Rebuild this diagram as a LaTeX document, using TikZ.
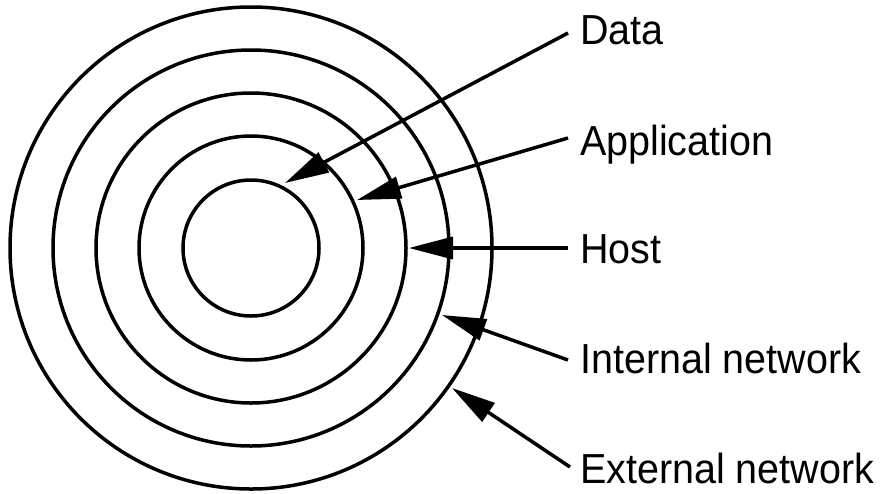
\documentclass[tikz,border=0pt]{standalone}
\usepackage{fontspec}
\setmainfont{Liberation Sans}[FakeStretch=0.94]
\usetikzlibrary{arrows.meta}
\begin{document}
\begin{tikzpicture}[x=1pt,y=-1pt,
  ring/.style={line width=3.5pt,draw=black},
  pointer/.style={line width=3.5pt,draw=black,-{Triangle[length=44pt,width=22pt]}},
  lbl/.style={anchor=base west,inner sep=0pt,font=\fontsize{42}{42}\selectfont}]
\useasboundingbox (0,0) rectangle (882,493);
\coordinate (c) at (251,248);
\foreach \r/\n in {68/r1,112/r2,155/r3,198/r4,241/r5}
  \draw[ring] (c) circle[radius=\r];
% labels
\node[lbl] (data) at (580,44) {Data};
\node[lbl] (app) at (580,155) {Application};
\node[lbl] (host) at (580,263) {Host};
\node[lbl] (int) at (580,373) {Internal network};
\node[lbl] (ext) at (580,483) {External network};
% line starts
\coordinate (sData) at (568,33);
\coordinate (sApp) at (568,138);
\coordinate (sHost) at (568,248);
\coordinate (sInt) at (568,360);
\coordinate (sExt) at (570,467);
% tips
\coordinate (tData) at (285,183);
\coordinate (tApp) at (357,200);
\coordinate (tHost) at (409,248);
\coordinate (tInt) at (442,315);
\coordinate (tExt) at (452,388);
\draw[pointer] (sData) -- (tData);
\draw[pointer] (sApp) -- (tApp);
\draw[pointer] (sHost) -- (tHost);
\draw[pointer] (sInt) -- (tInt);
\draw[pointer] (sExt) -- (tExt);
\end{tikzpicture}
\end{document}
